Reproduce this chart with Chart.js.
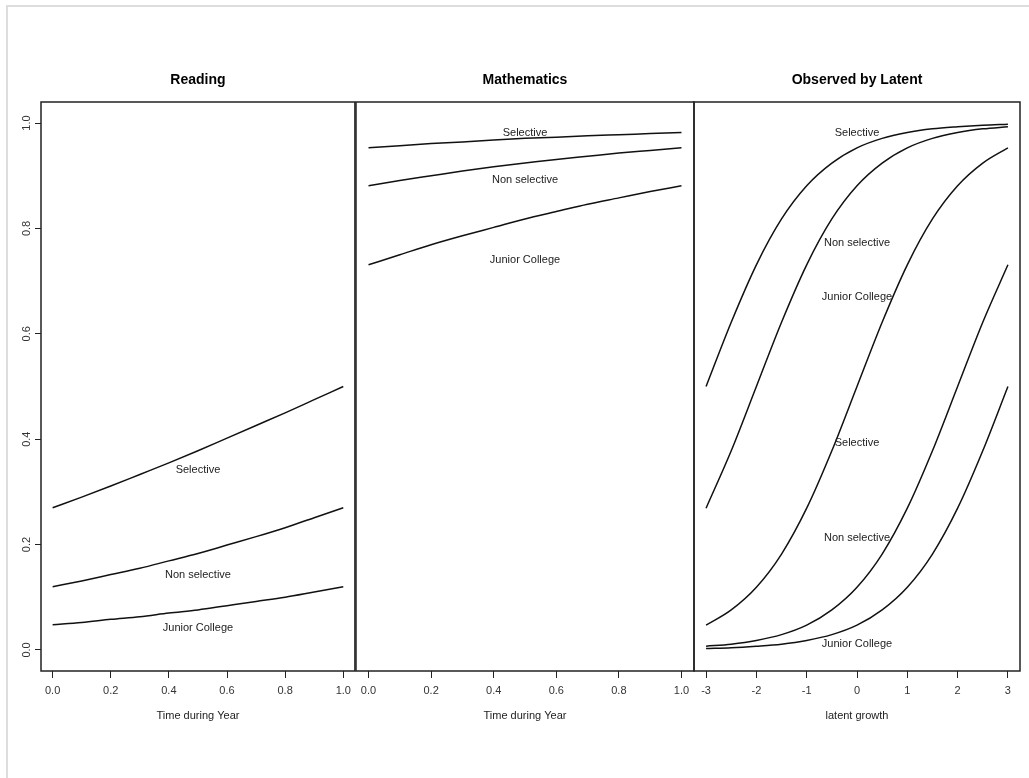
<!DOCTYPE html>
<html>
<head>
    <title>Observed by Latent</title>
    <script src="https://cdn.jsdelivr.net/npm/chart.js"></script>
    <style>
        body { margin: 0; background: white; }
        .page-edge {
            position: absolute;
            left: 6px;
            top: 5px;
            width: 1040px;
            height: 800px;
            border-left: 2px solid #ddd;
            border-top: 2px solid #ddd;
        }
        .panel { position: absolute; top: 0; }
    </style>
</head>
<body>
    <div class="page-edge"></div>
    <div class="panel" style="left:0px;"><canvas id="readingChart" width="357" height="778"></canvas></div>
    <div class="panel" style="left:350px;"><canvas id="mathChart" width="350" height="778"></canvas></div>
    <div class="panel" style="left:688px;"><canvas id="latentChart" width="341" height="778"></canvas></div>

    <script>
        // time during year (reading + maths panels)
        const timePoints = [0, 0.1, 0.2, 0.3, 0.4, 0.5, 0.6, 0.7, 0.8, 0.9, 1.0];
        const readSelective = [0.270, 0.290, 0.311, 0.333, 0.355, 0.378, 0.402, 0.426, 0.450, 0.475, 0.500];
        const readNonSelective = [0.120, 0.131, 0.143, 0.155, 0.169, 0.183, 0.199, 0.215, 0.232, 0.251, 0.270];
        const readJunior = [0.048, 0.052, 0.058, 0.063, 0.070, 0.076, 0.084, 0.092, 0.100, 0.110, 0.120];

        const mathSelective = [0.953, 0.957, 0.961, 0.964, 0.968, 0.971, 0.973, 0.976, 0.978, 0.980, 0.982];
        const mathNonSelective = [0.881, 0.891, 0.900, 0.909, 0.917, 0.924, 0.931, 0.937, 0.943, 0.948, 0.953];
        const mathJunior = [0.731, 0.750, 0.769, 0.786, 0.802, 0.818, 0.832, 0.846, 0.858, 0.870, 0.881];

        // latent growth panel
        const latentPoints = [-3, -2.5, -2, -1.5, -1, -0.5, 0, 0.5, 1, 1.5, 2, 2.5, 3];
        const latentCurve1 = [0.500, 0.622, 0.731, 0.818, 0.881, 0.924, 0.953, 0.971, 0.982, 0.989, 0.993, 0.996, 0.998];
        const latentCurve2 = [0.269, 0.378, 0.500, 0.622, 0.731, 0.818, 0.881, 0.924, 0.953, 0.971, 0.982, 0.989, 0.993];
        const latentCurve3 = [0.047, 0.076, 0.119, 0.182, 0.269, 0.378, 0.500, 0.622, 0.731, 0.818, 0.881, 0.924, 0.953];
        const latentCurve4 = [0.007, 0.011, 0.018, 0.029, 0.047, 0.076, 0.119, 0.182, 0.269, 0.378, 0.500, 0.622, 0.731];
        const latentCurve5 = [0.0025, 0.004, 0.007, 0.011, 0.018, 0.029, 0.047, 0.076, 0.119, 0.182, 0.269, 0.378, 0.500];

        // tick labels
        const probTicks = [0, 0.2, 0.4, 0.6, 0.8, 1.0];
        const timeTicks = [0, 0.2, 0.4, 0.6, 0.8, 1.0];
        const latentTicks = [-3, -2, -1, 0, 1, 2, 3];

        // text labels inside the panels
        const groupNames = ['Selective', 'Non selective', 'Junior College'];
        const readLabelY = [0.341, 0.142, 0.042];
        const mathLabelY = [0.981, 0.892, 0.741];
        const latentLabelNames = ['Selective', 'Non selective', 'Junior College', 'Selective', 'Non selective', 'Junior College'];
        const latentLabelY = [0.981, 0.773, 0.670, 0.392, 0.212, 0.011];

        const FONT = "'Liberation Sans', Arial, sans-serif";
        Chart.defaults.font.family = FONT;
        Chart.defaults.color = '#333';

        function toXY(xs, ys) {
            return xs.map((x, i) => ({ x: x, y: ys[i] }));
        }

        function curve(xs, ys) {
            return {
                data: toXY(xs, ys),
                borderColor: '#111',
                borderWidth: 1.5,
                pointRadius: 0,
                fill: false,
                cubicInterpolationMode: 'monotone'
            };
        }

        // box round the plot area + the text labels
        const panelDecor = {
            id: 'panelDecor',
            afterDatasetsDraw(chart, args, opts) {
                const { ctx, chartArea, scales } = chart;
                ctx.save();
                ctx.strokeStyle = '#222';
                ctx.lineWidth = 1.5;
                ctx.strokeRect(chartArea.left, chartArea.top, chartArea.right - chartArea.left, chartArea.bottom - chartArea.top);
                ctx.font = '11px ' + FONT;
                ctx.fillStyle = '#222';
                ctx.textAlign = 'center';
                ctx.textBaseline = 'middle';
                (opts.labels || []).forEach(l => {
                    ctx.fillText(l.text, scales.x.getPixelForValue(l.x), scales.y.getPixelForValue(l.y));
                });
                ctx.restore();
            }
        };

        function makePanel(id, title, datasets, xMin, xMax, xTicks, xTitle, showY, padLeft, padRight, labels) {
            const ctx = document.getElementById(id).getContext('2d');
            return new Chart(ctx, {
                type: 'line',
                data: { datasets: datasets },
                plugins: [panelDecor],
                options: {
                    responsive: false,
                    animation: false,
                    layout: { padding: { top: 72, bottom: 55.4, left: padLeft, right: padRight } },
                    plugins: {
                        legend: { display: false },
                        tooltip: { enabled: false },
                        title: {
                            display: true,
                            text: title,
                            fullSize: false,
                            color: '#000',
                            font: { size: 14, weight: 'bold' },
                            padding: { top: 0, bottom: 13.2 }
                        },
                        panelDecor: { labels: labels }
                    },
                    scales: {
                        x: {
                            type: 'linear',
                            min: xMin,
                            max: xMax,
                            afterBuildTicks: s => { s.ticks = xTicks.map(v => ({ value: v })); },
                            afterFit: s => { s.height = 51.6; },
                            grid: { drawOnChartArea: false, drawTicks: true, tickLength: 7, color: '#222' },
                            border: { display: false },
                            ticks: {
                                padding: 6,
                                maxRotation: 0,
                                font: { size: 11 },
                                callback: v => (xMax > 2 ? String(v) : v.toFixed(1))
                            },
                            title: {
                                display: true,
                                text: xTitle,
                                color: '#222',
                                font: { size: 11 },
                                padding: { top: 0, bottom: 0 }
                            }
                        },
                        y: {
                            type: 'linear',
                            display: showY,
                            min: -0.04,
                            max: 1.04,
                            afterBuildTicks: s => { s.ticks = probTicks.map(v => ({ value: v })); },
                            afterFit: s => { s.width = showY ? 41 : 0; },
                            grid: { drawOnChartArea: false, drawTicks: true, tickLength: 6, color: '#222' },
                            border: { display: false },
                            ticks: {
                                padding: 0,
                                minRotation: 90,
                                maxRotation: 90,
                                crossAlign: 'center',
                                font: { size: 11 },
                                callback: v => v.toFixed(1)
                            }
                        }
                    }
                }
            });
        }

        makePanel('readingChart', 'Reading', [
            curve(timePoints, readSelective),
            curve(timePoints, readNonSelective),
            curve(timePoints, readJunior)
        ], -0.04, 1.04, timeTicks, 'Time during Year', true, 0, 0.5,
            groupNames.map((t, i) => ({ text: t, x: 0.5, y: readLabelY[i] })));

        makePanel('mathChart', 'Mathematics', [
            curve(timePoints, mathSelective),
            curve(timePoints, mathNonSelective),
            curve(timePoints, mathJunior)
        ], -0.04, 1.04, timeTicks, 'Time during Year', false, 6, 6,
            groupNames.map((t, i) => ({ text: t, x: 0.5, y: mathLabelY[i] })));

        makePanel('latentChart', 'Observed by Latent', [
            curve(latentPoints, latentCurve1),
            curve(latentPoints, latentCurve2),
            curve(latentPoints, latentCurve3),
            curve(latentPoints, latentCurve4),
            curve(latentPoints, latentCurve5)
        ], -3.24, 3.24, latentTicks, 'latent growth', false, 6, 9,
            latentLabelNames.map((t, i) => ({ text: t, x: 0, y: latentLabelY[i] })));
    </script>
</body>
</html>
